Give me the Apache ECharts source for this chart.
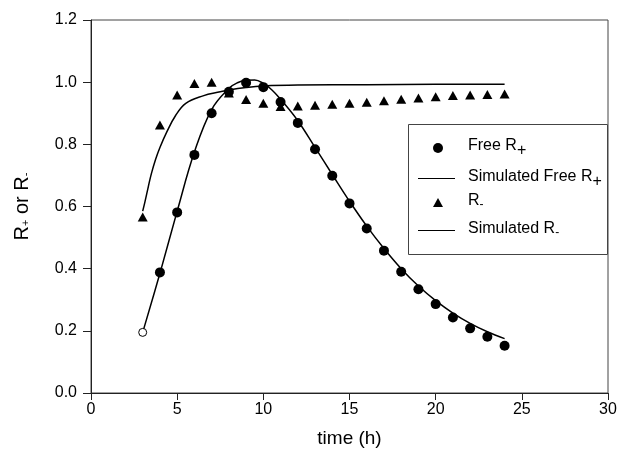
<!DOCTYPE html>
<html><head><meta charset="utf-8">
<script src="https://cdn.jsdelivr.net/npm/echarts@6/dist/echarts.min.js"></script>
<style>html,body{margin:0;padding:0;background:#fff}#c{width:621px;height:465px}</style>
</head><body><div id="c"></div>
<script>
// Measured data: Free R+
const freeT = [4,5,6,7,8,9,10,11,12,13,14,15,16,17,18,19,20,21,22,23,24];
const freeV = [0.388,0.581,0.766,0.900,0.969,0.998,0.984,0.936,0.869,0.784,0.699,0.610,0.529,0.458,0.390,0.334,0.286,0.243,0.208,0.181,0.152];
// starting point (open circle)
const startT = [3];
const startV = [0.195];
// Measured data: R-
const rmT = [3,4,5,6,7,8,9,10,11,12,13,14,15,16,17,18,19,20,21,22,23,24];
const rmV = [0.566,0.862,0.959,0.996,1.000,0.965,0.944,0.932,0.922,0.923,0.926,0.929,0.932,0.935,0.940,0.945,0.949,0.953,0.957,0.959,0.960,0.962];
// Simulated Free R+
const simFreeT = [3,4,5,6,7,8,8.5,9,9.5,10,10.5,11,12,13,14,15,16,17,18,19,20,21,22,23,24];
const simFreeV = [0.195,0.385,0.585,0.775,0.912,0.980,0.998,1.006,1.007,0.996,0.975,0.945,0.876,0.790,0.703,0.617,0.537,0.465,0.400,0.344,0.297,0.257,0.224,0.197,0.175];
// Simulated R-
const simRT = [3,3.13,3.33,3.5,3.75,4,4.4,4.9,5.5,6.5,7.5,8,9,10,12,16,20,24];
const simRV = [0.585,0.615,0.665,0.705,0.752,0.790,0.840,0.892,0.932,0.956,0.969,0.975,0.983,0.988,0.991,0.992,0.993,0.993];
// Axis ticks
const xMin = 0, xMax = 30, xStep = 5;
const yMin = 0, yMax = 1.2, yStep = 0.2;

const pts = (xs, ys) => xs.map((x, i) => [x, ys[i]]);
const FONT = 'Liberation Sans, Arial, sans-serif';
const AX = '#222';

const chart = echarts.init(document.getElementById('c'), null, {renderer: 'canvas'});
chart.setOption({
  animation: false,
  backgroundColor: '#fff',
  textStyle: {fontFamily: FONT},
  grid: {left: 91, right: 13, top: 20, bottom: 72, show: true, borderColor: '#444', borderWidth: 1},
  xAxis: {
    type: 'value', min: xMin, max: xMax, interval: xStep,
    name: 'time (h)', nameLocation: 'middle', nameGap: 36,
    nameTextStyle: {fontSize: 19, color: '#000', fontFamily: FONT},
    axisLine: {show: true, lineStyle: {color: AX, width: 1}},
    axisTick: {show: true, length: 7, lineStyle: {color: AX}},
    axisLabel: {fontSize: 16, color: '#000', margin: 9, fontFamily: FONT},
    splitLine: {show: false}
  },
  yAxis: {
    type: 'value', min: yMin, max: yMax, interval: yStep,
    name: 'R{sub|+} or R{sub|-}', nameLocation: 'middle', nameGap: 59,
    nameTextStyle: {fontSize: 20, color: '#000', fontFamily: FONT,
      rich: {sub: {fontSize: 11, color: '#000', padding: [8, 0, 0, 0], fontFamily: FONT}}},
    axisLine: {show: true, lineStyle: {color: AX, width: 1}},
    axisTick: {show: true, length: 8, lineStyle: {color: AX}},
    axisLabel: {fontSize: 16, color: '#000', margin: 14, fontFamily: FONT,
      formatter: v => v.toFixed(1)},
    splitLine: {show: false}
  },
  series: [
    {name: 'Simulated Free R+', type: 'line', data: pts(simFreeT, simFreeV), smooth: 0.4,
      showSymbol: false, symbol: 'none', lineStyle: {color: '#000', width: 1.5}, z: 2},
    {name: 'Simulated R-', type: 'line', data: pts(simRT, simRV), smooth: 0.4,
      showSymbol: false, symbol: 'none', lineStyle: {color: '#000', width: 1.5}, z: 2},
    {name: 'Free R+', type: 'scatter', data: pts(freeT, freeV), symbol: 'circle', symbolSize: 10,
      itemStyle: {color: '#000', opacity: 1}, z: 3},
    {name: 'start', type: 'scatter', data: pts(startT, startV), symbol: 'circle', symbolSize: 8,
      itemStyle: {color: '#fff', borderColor: '#000', borderWidth: 1, opacity: 1}, z: 4},
    {name: 'R-', type: 'scatter', data: pts(rmT, rmV), symbol: 'triangle', symbolSize: [10, 9],
      itemStyle: {color: '#000', opacity: 1}, z: 3}
  ],
  graphic: [
    {type: 'rect', shape: {x: 408.5, y: 124.5, width: 199, height: 130},
      style: {fill: '#fff', stroke: '#444', lineWidth: 1}, z: 10},
    {type: 'circle', shape: {cx: 438, cy: 148, r: 5}, style: {fill: '#000'}, z: 11},
    {type: 'text', left: 468, top: 138, z: 11,
      style: {text: 'Free R{sub|+}', font: '16px ' + FONT, fill: '#000',
        rich: {sub: {fontSize: 16, fontFamily: FONT, fill: '#000', padding: [9, 0, 0, 0]}}}},
    {type: 'line', shape: {x1: 418, y1: 178.5, x2: 455, y2: 178.5}, style: {stroke: '#000', lineWidth: 1}, z: 11},
    {type: 'text', left: 468, top: 169, z: 11,
      style: {text: 'Simulated Free R{sub|+}', font: '16px ' + FONT, fill: '#000',
        rich: {sub: {fontSize: 16, fontFamily: FONT, fill: '#000', padding: [9, 0, 0, 0]}}}},
    {type: 'polygon', shape: {points: [[438, 198], [433, 207], [443, 207]]}, style: {fill: '#000'}, z: 11},
    {type: 'text', left: 468, top: 193, z: 11,
      style: {text: 'R{sub|-}', font: '16px ' + FONT, fill: '#000',
        rich: {sub: {fontSize: 12, fontFamily: FONT, fill: '#000', padding: [8, 0, 0, 0]}}}},
    {type: 'line', shape: {x1: 418, y1: 230.5, x2: 455, y2: 230.5}, style: {stroke: '#000', lineWidth: 1}, z: 11},
    {type: 'text', left: 468, top: 221, z: 11,
      style: {text: 'Simulated R{sub|-}', font: '16px ' + FONT, fill: '#000',
        rich: {sub: {fontSize: 12, fontFamily: FONT, fill: '#000', padding: [8, 0, 0, 0]}}}}
  ]
});
</script>
</body></html>
